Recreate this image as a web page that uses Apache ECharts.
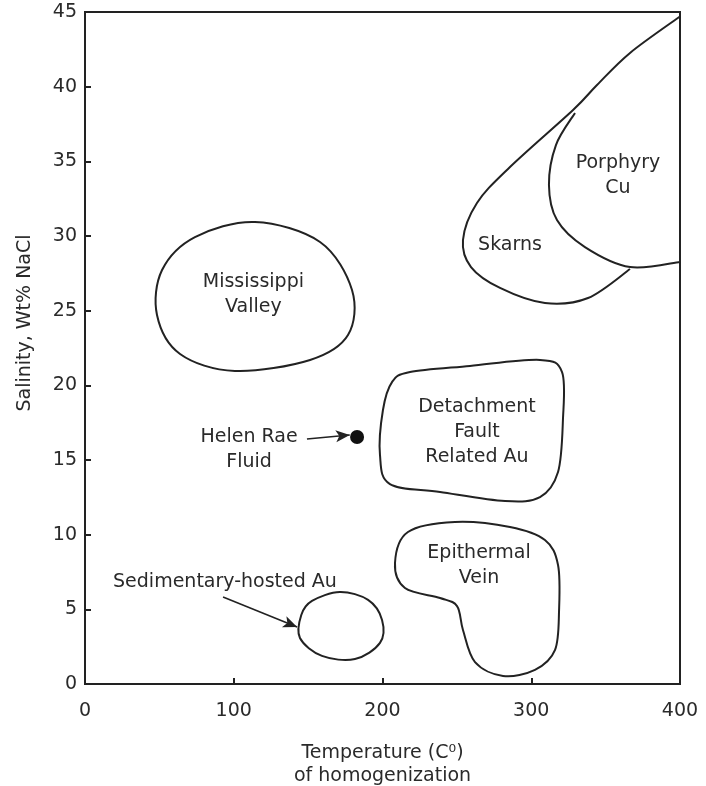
<!DOCTYPE html>
<html><head><meta charset="utf-8">
<script src="https://cdn.jsdelivr.net/npm/echarts@6/dist/echarts.min.js"></script>
<style>html,body{margin:0;padding:0;background:#fff}#c{width:706px;height:786px}</style>
</head><body><div id="c"></div>
<script>
// Axis ranges (temperature °C, salinity wt% NaCl)
const xRange = [0, 400], xStep = 100;
const yRange = [0, 45], yStep = 5;

// Closed fields (temperature, salinity)
const mississippiValley = [[114.3,30.94],[158.0,29.60],[179.5,26.38],[176.8,23.37],[151.3,21.70],[100.8,20.96],[63.9,22.10],[48.4,24.71],[51.8,27.72],[73.9,29.93]];
const detachmentFault = [[218.5,20.89],[258.8,21.30],[305.9,21.70],[320.7,20.89],[321.3,17.68],[318.0,14.20],[305.9,12.52],[282.4,12.25],[238.7,12.86],[205.0,13.39],[198.3,15.34],[200.3,18.35],[206.4,20.22]];
const epithermalVein = [[217.1,10.18],[248.7,10.85],[285.7,10.51],[309.2,9.64],[318.0,7.97],[318.7,4.96],[316.0,2.28],[302.5,0.94],[281.0,0.54],[262.2,1.47],[254.1,3.62],[250.1,5.22],[238.7,5.76],[215.1,6.43],[208.4,8.10]];
const sedimentaryHosted = [[171.4,6.16],[190.3,5.63],[199.7,4.29],[198.3,2.75],[181.5,1.67],[159.3,1.88],[144.5,3.08],[145.4,4.62],[152.6,5.56]];

// Open boundaries of the skarn / porphyry fields
const skarnOuter = [[400,44.7],[366.4,42.26],[344.2,40.11],[328.1,38.44],[285.7,34.62],[263.5,32.21],[254.1,29.73],[259.5,27.92],[279.0,26.52],[309.2,25.51],[338.2,25.85],[366.4,27.79]];
const porphyryInner = [[329.4,38.24],[316.6,36.09],[311.9,33.42],[317.3,31.07],[336.1,29.26],[366.4,27.92],[400,28.26]];

// Helen Rae fluid
const helenRae = [[182.9,16.54]];
const helenArrow = [[149.2,16.41],[178.0,16.67]];
const sedArrow = [[92.8,5.83],[142.6,3.82]];

// Field labels
const labelNames = ['Mississippi\nValley','Detachment\nFault\nRelated Au','Epithermal\nVein','Skarns','Porphyry\nCu','Helen Rae\nFluid','Sedimentary-hosted Au'];
const labelPoints = [[113.2,26.05],[263.5,16.88],[264.9,7.90],[285.7,29.40],[358.3,34.02],[110.3,15.67],[94.1,6.83]];

const INK = '#222';
const TEXT = '#2a2a2a';
const FONT = 'DejaVu Sans';

// Smooth outline through the given (pixel) points: cubic Bezier segments (Catmull-Rom tangents)
function splinePath(P, closed) {
  const n = P.length;
  const get = i => closed ? P[(i + n) % n] : P[Math.max(0, Math.min(n - 1, i))];
  const f = v => v.toFixed(2);
  let d = 'M' + f(P[0][0]) + ' ' + f(P[0][1]);
  const segs = closed ? n : n - 1;
  for (let i = 0; i < segs; i++) {
    const p0 = get(i - 1), p1 = get(i), p2 = get(i + 1), p3 = get(i + 2);
    const c1x = p1[0] + (p2[0] - p0[0]) / 6, c1y = p1[1] + (p2[1] - p0[1]) / 6;
    const c2x = p2[0] - (p3[0] - p1[0]) / 6, c2y = p2[1] - (p3[1] - p1[1]) / 6;
    d += ' C' + f(c1x) + ' ' + f(c1y) + ' ' + f(c2x) + ' ' + f(c2y) + ' ' + f(p2[0]) + ' ' + f(p2[1]);
  }
  if (closed) d += ' Z';
  return d;
}

function outline(name, pts, closed) {
  return {
    type: 'custom', name, data: pts, silent: true, clip: false,
    encode: { x: 0, y: 1 },
    renderItem: function (params, api) {
      if (params.dataIndex !== 0) return null;
      return {
        type: 'path',
        shape: { pathData: splinePath(pts.map(p => api.coord(p)), closed) },
        style: { fill: 'none', stroke: INK, lineWidth: 2, lineJoin: 'round' }
      };
    }
  };
}

const chart = echarts.init(document.getElementById('c'), null, { renderer: 'canvas' });
chart.setOption({
  animation: false,
  backgroundColor: '#fff',
  grid: { left: 85, right: 26, top: 12, bottom: 102, outerBoundsMode: 'none', containLabel: false,
    show: true, borderColor: INK, borderWidth: 2, backgroundColor: 'transparent' },
  xAxis: {
    type: 'value', min: xRange[0], max: xRange[1], interval: xStep,
    name: 'Temperature (C\u2070)\nof homogenization', nameLocation: 'middle', nameGap: 58,
    nameTextStyle: { fontFamily: FONT, fontSize: 19, color: TEXT, lineHeight: 23 },
    axisLine: { lineStyle: { color: INK, width: 2 } },
    axisTick: { inside: true, length: 6, lineStyle: { color: INK, width: 2 } },
    axisLabel: { fontFamily: FONT, fontSize: 19, color: TEXT, margin: 18 },
    splitLine: { show: false }
  },
  yAxis: {
    type: 'value', min: yRange[0], max: yRange[1], interval: yStep,
    name: 'Salinity, Wt% NaCl', nameLocation: 'middle', nameGap: 50,
    nameTextStyle: { fontFamily: FONT, fontSize: 19, color: TEXT, padding: [0, 0, 0, 50] },
    axisLine: { lineStyle: { color: INK, width: 2 } },
    axisTick: { inside: true, length: 6, lineStyle: { color: INK, width: 2 } },
    axisLabel: { fontFamily: FONT, fontSize: 19, color: TEXT, margin: 8 },
    splitLine: { show: false }
  },
  series: [
    outline('Mississippi Valley', mississippiValley, true),
    outline('Detachment Fault Related Au', detachmentFault, true),
    outline('Epithermal Vein', epithermalVein, true),
    outline('Sedimentary-hosted Au', sedimentaryHosted, true),
    outline('Skarns', skarnOuter, false),
    outline('Porphyry Cu', porphyryInner, false),
    {
      type: 'scatter', name: 'Helen Rae Fluid', data: helenRae, symbolSize: 14, silent: true,
      itemStyle: { color: '#111', opacity: 1 },
      markLine: {
        silent: true, animation: false, symbol: ['none', 'arrow'], symbolSize: [9, 14],
        label: { show: false },
        lineStyle: { color: INK, width: 1.6, type: 'solid', opacity: 1 },
        data: [
          [{ coord: helenArrow[0] }, { coord: helenArrow[1] }],
          [{ coord: sedArrow[0], lineStyle: { curveness: -0.12 } }, { coord: sedArrow[1] }]
        ]
      }
    },
    {
      type: 'scatter', name: 'labels', symbolSize: 0, silent: true,
      itemStyle: { opacity: 1 },
      data: labelNames.map((n, i) => ({ name: n, value: labelPoints[i] })),
      label: { show: true, position: 'inside', formatter: '{b}', fontFamily: FONT, fontSize: 19,
        color: TEXT, lineHeight: 25, align: 'center', verticalAlign: 'middle' }
    }
  ]
});
</script></body></html>
